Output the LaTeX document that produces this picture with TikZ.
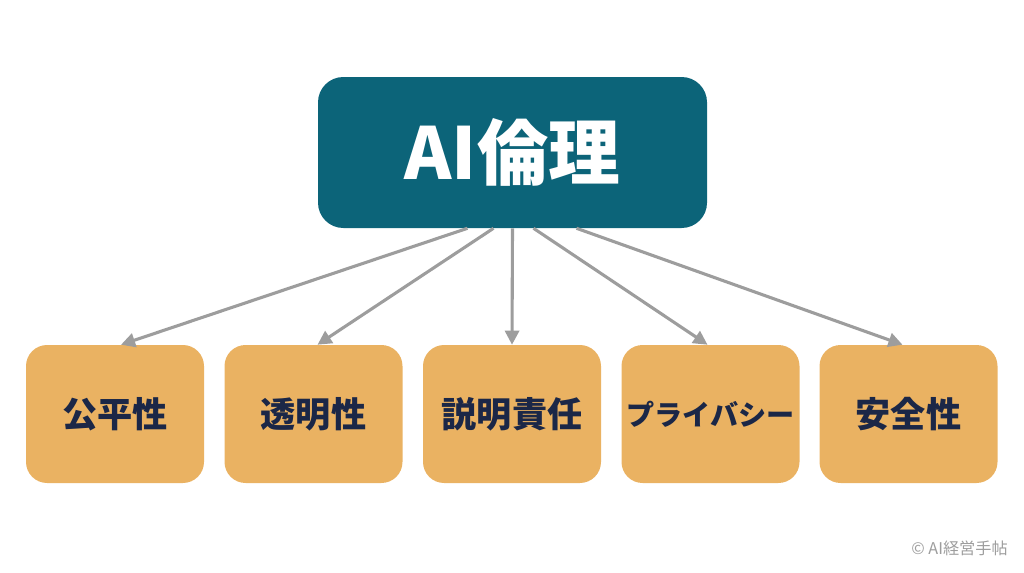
\documentclass[tikz,border=0pt]{standalone}
\usepackage{fontspec}
\setmainfont{Noto Sans CJK JP}
\usepackage{xcolor}
\usepackage{tikz}
\usetikzlibrary{arrows.meta,positioning,calc}
\definecolor{EthicsTeal}{HTML}{0C6479}
\definecolor{PillarGold}{HTML}{EAB262}
\definecolor{PillarInk}{HTML}{1B2747}
\definecolor{LinkGray}{HTML}{9D9D9D}

\begin{document}
\begin{tikzpicture}[x=0.025cm,y=-0.025cm,
    pillar/.style={fill=PillarGold,rounded corners=15pt,minimum width=178*0.025cm,
      minimum height=138*0.025cm,inner sep=0pt,text=PillarInk,
      font=\fontsize{25pt}{29pt}\selectfont\bfseries},
    link/.style={draw=LinkGray,line width=2.2pt,-{Triangle[length=10pt,width=10pt]}}]
  \useasboundingbox (0,0) rectangle (1024,572);
  \node[fill=EthicsTeal,rounded corners=18pt,minimum width=389*0.025cm,
    minimum height=151*0.025cm,inner sep=0pt,text=white,
    font=\fontsize{51pt}{56pt}\selectfont\bfseries] (ethics) at (512.5,152.5) {AI倫理};
  \node[pillar] (fair) at (115,414) {公平性};
  \node[pillar] (transp) at (313.5,414) {透明性};
  \node[pillar] (account) at (512,414) {説明責任};
  \node[pillar,font=\fontsize{20pt}{24pt}\selectfont\bfseries] (privacy) at (710.5,414) {プライバシー};
  \node[pillar] (safety) at (908.5,414) {安全性};
  \draw[link] ($(ethics.south)+(-45,0)$) -- ($(fair.north)+(6,0)$);
  \draw[link] ($(ethics.south)+(-19,0)$) -- ($(transp.north)+(4,0)$);
  \draw[link] (ethics.south) -- (account.north);
  \draw[link] ($(ethics.south)+(21,0)$) -- ($(privacy.north)+(-3,0)$);
  \draw[link] ($(ethics.south)+(64,0)$) -- ($(safety.north)+(-6,0)$);
  \node[anchor=east,text=LinkGray,font=\fontsize{11.5pt}{14pt}\selectfont,inner sep=0pt]
    (credit) at (1008,548) {© AI経営手帖};
\end{tikzpicture}
\end{document}
